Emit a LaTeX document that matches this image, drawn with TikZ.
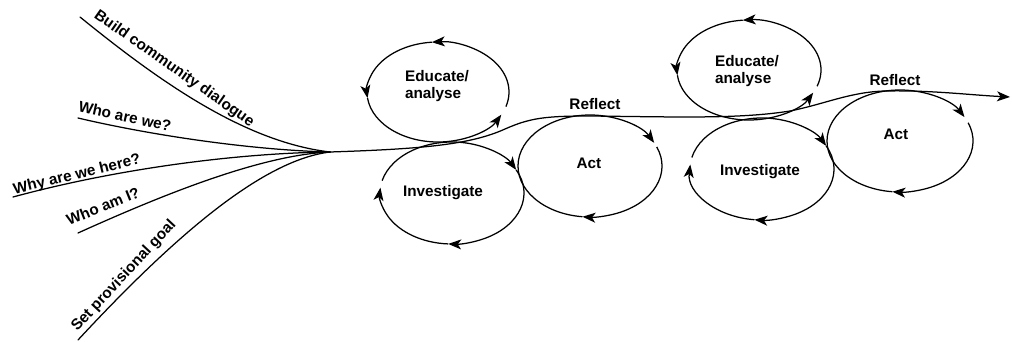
\documentclass[tikz,border=0pt]{standalone}
\usepackage{fontspec}
\setmainfont{Liberation Sans}
\usetikzlibrary{arrows.meta}
\begin{document}
\begin{tikzpicture}[x=1pt,y=1pt,
  line/.style={line width=1.25pt, line cap=round},
  arr/.style={line width=1.25pt, -{Stealth[length=13pt,width=10pt,inset=3.5pt]}},
  lab/.style={font=\fontsize{15.3}{16.5}\selectfont\bfseries, inner sep=0pt}]
\useasboundingbox (0,0) rectangle (1012,-342);
% convergence point and ends
\coordinate (J) at (330,-152);
\coordinate (b1) at (80,-17);
\coordinate (b2) at (78,-118);
\coordinate (b3) at (13,-197);
\coordinate (b4) at (78,-233);
\coordinate (b5) at (78,-340);
\coordinate (End) at (1010,-97);
% fan of strands
\draw[line] (b1) .. controls (160,-82) and (245,-142) .. (J);
\draw[line] (b2) .. controls (150,-135) and (250,-150) .. (J);
\draw[line] (b3) .. controls (120,-168) and (240,-153) .. (J);
\draw[line] (b4) .. controls (160,-196) and (260,-155) .. (J);
\draw[line] (b5) .. controls (180,-230) and (265,-160) .. (J);
% strand labels
\node[lab, rotate=-35] (l1) at (174,-69) {Build community dialogue};
\node[lab, rotate=-12.5] (l2) at (125,-116) {Who are we?};
\node[lab, rotate=13.5] (l3) at (77,-175) {Why are we here?};
\node[lab, rotate=22] (l4) at (103,-206) {Who am I?};
\node[lab, rotate=47] (l5) at (124,-276) {Set provisional goal};
% main line
\draw[arr] (J) .. controls (420,-149) and (470,-145) .. (505,-129)
  .. controls (530,-118) and (545,-116) .. (590,-116)
  .. controls (680,-117) and (740,-119) .. (790,-111)
  .. controls (825,-104) and (850,-92) .. (885,-91)
  .. controls (930,-90) and (970,-95) .. (End);
% cycle centres
\coordinate (E1) at (438,-92);
\coordinate (I1) at (452,-193);
\coordinate (A1) at (590,-166);
\coordinate (E2) at (749,-70);
\coordinate (I2) at (762,-169);
\coordinate (A2) at (900,-141);
% first cycle
\draw[arr] (E1) ++(-17:71 and 50) arc[start angle=-17, end angle=95, x radius=71, y radius=50];
\draw[arr] (E1) ++(95:71 and 50) arc[start angle=95, end angle=187, x radius=71, y radius=50];
\draw[arr] (E1) ++(187:71 and 50) arc[start angle=187, end angle=333, x radius=71, y radius=50];
\draw[arr] (I1) ++(166:72 and 51) arc[start angle=166, end angle=27, x radius=72, y radius=51];
\draw[arr] (I1) ++(27:72 and 51) arc[start angle=27, end angle=-93, x radius=72, y radius=51];
\draw[arr] (I1) ++(-93:72 and 51) arc[start angle=-93, end angle=-186, x radius=72, y radius=51];
\draw[arr] (A1) ++(22:72 and 51) arc[start angle=22, end angle=-96, x radius=72, y radius=51];
\draw[arr] (A1) ++(-96:72 and 51) arc[start angle=-96, end angle=-333, x radius=72, y radius=51];
% second cycle
\draw[arr] (E2) ++(-19:72 and 50) arc[start angle=-19, end angle=95, x radius=72, y radius=50];
\draw[arr] (E2) ++(95:72 and 50) arc[start angle=95, end angle=186, x radius=72, y radius=50];
\draw[arr] (E2) ++(186:72 and 50) arc[start angle=186, end angle=333, x radius=72, y radius=50];
\draw[arr] (I2) ++(167:72 and 51) arc[start angle=167, end angle=27, x radius=72, y radius=51];
\draw[arr] (I2) ++(27:72 and 51) arc[start angle=27, end angle=-96, x radius=72, y radius=51];
\draw[arr] (I2) ++(-96:72 and 51) arc[start angle=-96, end angle=-185, x radius=72, y radius=51];
\draw[arr] (A2) ++(21:73 and 51) arc[start angle=21, end angle=-96, x radius=73, y radius=51];
\draw[arr] (A2) ++(-96:73 and 51) arc[start angle=-96, end angle=-332, x radius=73, y radius=51];
% labels
\node[lab, align=left] (e1) at (437,-86) {Educate/\\analyse};
\node[lab] (i1) at (443,-193) {Investigate};
\node[lab] (a1) at (589,-163) {Act};
\node[lab] (r1) at (595,-104) {Reflect};
\node[lab, align=left] (e2) at (747,-71) {Educate/\\analyse};
\node[lab] (i2) at (760,-172) {Investigate};
\node[lab] (a2) at (896,-134) {Act};
\node[lab] (r2) at (895,-80) {Reflect};
\end{tikzpicture}
\end{document}
